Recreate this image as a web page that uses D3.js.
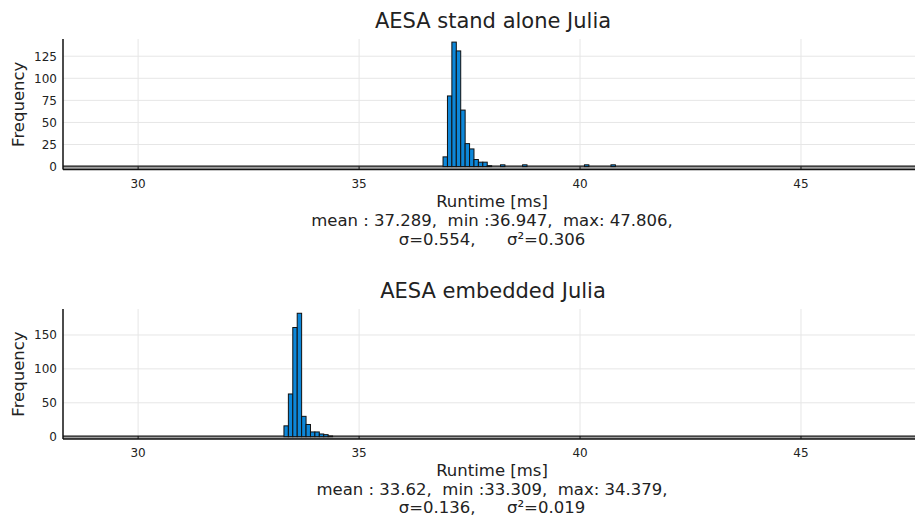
<!DOCTYPE html>
<html>
<head>
<meta charset="utf-8">
<script src="https://cdn.jsdelivr.net/npm/d3@7"></script>
<style>
  body { margin: 0; background: #fff; }
  text { font-family: "DejaVu Sans", sans-serif; fill: #222; white-space: pre; }
</style>
</head>
<body>
<div id="chart"></div>
<script>
// histogram bins (start of each 0.1 ms bin) and their counts
var binWidth = 0.1;
var topStarts = [36.9, 37.0, 37.1, 37.2, 37.3, 37.4, 37.5, 37.6, 37.7, 37.8, 37.9, 38.2, 38.7, 40.1, 40.7];
var topCounts = [11, 80, 141, 131, 64, 26, 20, 8, 5, 5, 1, 2, 2, 2, 2];
var bottomStarts = [33.3, 33.4, 33.5, 33.6, 33.7, 33.8, 33.9, 34.0, 34.1, 34.2, 34.3];
var bottomCounts = [16, 63, 161, 182, 30, 18, 7, 7, 4, 3, 1];

var xTicks = [30, 35, 40, 45];
var topYTicks = [0, 25, 50, 75, 100, 125];
var bottomYTicks = [0, 50, 100, 150];

var titles = ["AESA stand alone Julia", "AESA embedded Julia"];
var statLines = [
  ["mean : 37.289,  min :36.947,  max: 47.806,", "σ=0.554,      σ²=0.306"],
  ["mean : 33.62,  min :33.309,  max: 34.379,", "σ=0.136,      σ²=0.019"]
];

var W = 915, H = 515;
var svg = d3.select("#chart").append("svg")
  .attr("width", W).attr("height", H);

var x = d3.scaleLinear().domain([28.3, 47.58]).range([63, 915]);

function panel(cfg) {
  var g = svg.append("g");
  var y = d3.scaleLinear().domain(cfg.ydom).range([cfg.bottom, cfg.top]);

  // grid
  g.selectAll(".vgrid").data(xTicks).enter().append("line")
    .attr("x1", function(d) { return x(d); }).attr("x2", function(d) { return x(d); })
    .attr("y1", cfg.top).attr("y2", cfg.bottom)
    .attr("stroke", "#e6e6e6").attr("stroke-width", 1);
  g.selectAll(".hgrid").data(cfg.yticks).enter().append("line")
    .attr("x1", x.range()[0]).attr("x2", x.range()[1])
    .attr("y1", function(d) { return y(d); }).attr("y2", function(d) { return y(d); })
    .attr("stroke", "#e6e6e6").attr("stroke-width", 1);

  // band of empty bins along zero
  g.append("rect")
    .attr("x", x.range()[0]).attr("width", x.range()[1] - x.range()[0])
    .attr("y", y(0)).attr("height", cfg.bottom - y(0))
    .attr("fill", "#a0a0a0");
  g.append("line")
    .attr("x1", x.range()[0]).attr("x2", x.range()[1])
    .attr("y1", y(0) - 0.5).attr("y2", y(0) - 0.5)
    .attr("stroke", "#111").attr("stroke-width", 1.2);

  // bars
  var data = cfg.starts.map(function(s, i) { return {x0: s, n: cfg.counts[i]}; });
  g.selectAll(".bar").data(data).enter().append("rect")
    .attr("x", function(d) { return x(d.x0); })
    .attr("width", function(d) { return x(d.x0 + binWidth) - x(d.x0); })
    .attr("y", function(d) { return y(d.n); })
    .attr("height", function(d) { return y(0) - y(d.n); })
    .attr("fill", "#0d87d9")
    .attr("stroke", "#111").attr("stroke-width", 1);

  // axes frame
  g.append("line")
    .attr("x1", x.range()[0]).attr("x2", x.range()[1])
    .attr("y1", cfg.bottom).attr("y2", cfg.bottom)
    .attr("stroke", "#111").attr("stroke-width", 1.5);
  g.append("line")
    .attr("x1", x.range()[0]).attr("x2", x.range()[0])
    .attr("y1", cfg.top).attr("y2", cfg.bottom)
    .attr("stroke", "#111").attr("stroke-width", 1.5);

  // x ticks
  g.selectAll(".xt").data(xTicks).enter().append("line")
    .attr("x1", function(d) { return x(d); }).attr("x2", function(d) { return x(d); })
    .attr("y1", cfg.bottom - 3).attr("y2", cfg.bottom)
    .attr("stroke", "#111");
  g.selectAll(".xl").data(xTicks).enter().append("text")
    .attr("x", function(d) { return x(d); })
    .attr("y", cfg.bottom + 18)
    .attr("text-anchor", "middle").attr("font-size", "12px")
    .text(function(d) { return d; });

  // y ticks
  g.selectAll(".yl").data(cfg.yticks).enter().append("text")
    .attr("x", 57)
    .attr("y", function(d) { return y(d) + 4.5; })
    .attr("text-anchor", "end").attr("font-size", "12px")
    .text(function(d) { return d; });

  g.append("text")
    .attr("transform", "translate(24," + ((cfg.top + cfg.bottom) / 2) + ")rotate(-90)")
    .attr("text-anchor", "middle").attr("font-size", "16.5px")
    .text("Frequency");

  var cx = (x.range()[0] + x.range()[1]) / 2;
  g.append("text").attr("x", cx + 4).attr("y", cfg.top - 11)
    .attr("text-anchor", "middle").attr("font-size", "21px")
    .text(cfg.title);
  g.append("text").attr("x", cx + 3).attr("y", cfg.bottom + 37)
    .attr("text-anchor", "middle").attr("font-size", "16.5px")
    .text("Runtime [ms]");
  g.append("text").attr("x", cx + 3).attr("y", cfg.bottom + 56)
    .attr("text-anchor", "middle").attr("font-size", "16.5px")
    .text(cfg.stats[0]);
  g.append("text").attr("x", cx + 3).attr("y", cfg.bottom + cfg.lastGap)
    .attr("text-anchor", "middle").attr("font-size", "16.5px")
    .text(cfg.stats[1]);
}

panel({top: 39, bottom: 169.5, ydom: [-3.3, 144.5], yticks: topYTicks, lastGap: 75,
  starts: topStarts, counts: topCounts, title: titles[0], stats: statLines[0]});
panel({top: 309, bottom: 439, ydom: [-3.4, 188.3], yticks: bottomYTicks, lastGap: 74,
  starts: bottomStarts, counts: bottomCounts, title: titles[1], stats: statLines[1]});
</script>
</body>
</html>
